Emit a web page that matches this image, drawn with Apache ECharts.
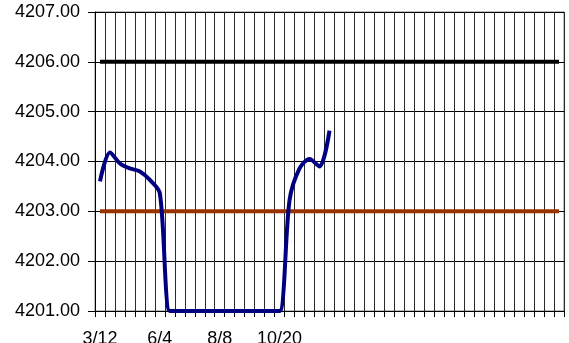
<!DOCTYPE html>
<html>
<head>
<meta charset="utf-8">
<script src="https://cdn.jsdelivr.net/npm/echarts@6/dist/echarts.min.js"></script>
<style>
  html, body { margin: 0; padding: 0; background: #fff; }
  #chart { width: 569px; height: 343px; }
</style>
</head>
<body>
<div id="chart"></div>
<script>
// Number of category slots on the date axis (only the first part holds readings)
const slotCount = 47;
// Date labels, one every labelStep slots
const dateLabels = ['3/12', '6/4', '8/8', '10/20'];
const labelStep = 6;

// Measured level readings
const levelReadings = [
  4203.60, 4204.18, 4203.96, 4203.86, 4203.80, 4203.63, 4203.36,
  4201.00, 4201.00, 4201.00, 4201.00, 4201.00, 4201.00, 4201.00,
  4201.00, 4201.00, 4201.00, 4201.00, 4201.00,
  4203.23, 4203.86, 4204.05, 4203.90, 4204.62
];

// Reference levels drawn across the whole axis
const upperLevel = 4206.00;
const lowerLevel = 4203.00;

// Value axis range
const yMin = 4201, yMax = 4207, yStep = 1;

const categories = Array.from({ length: slotCount }, (_, i) => String(i));
const fill = v => categories.map(() => v);

const chart = echarts.init(document.getElementById('chart'), null, { renderer: 'canvas' });
chart.setOption({
  animation: false,
  backgroundColor: '#ffffff',
  textStyle: { fontFamily: '"Liberation Sans", Arial, sans-serif' },
  grid: {
    left: 95, right: 5, top: 12, bottom: 32,
    containLabel: false,
    outerBoundsMode: 'none',
    show: true, borderColor: '#808080', borderWidth: 1, backgroundColor: 'transparent'
  },
  xAxis: {
    type: 'category',
    data: categories,
    boundaryGap: true,
    axisLine: { show: true, lineStyle: { color: '#000', width: 1 } },
    axisTick: { show: true, interval: 0, length: 6, lineStyle: { color: '#000' } },
    axisLabel: {
      interval: 0,
      margin: 19,
      color: '#000',
      fontSize: 18,
      fontFamily: '"Liberation Sans", Arial, sans-serif',
      formatter: (v, i) => (i % labelStep === 0 && dateLabels[i / labelStep]) ? dateLabels[i / labelStep] : ''
    },
    splitLine: { show: true, interval: 0, lineStyle: { color: '#2a2a2a', width: 1 } }
  },
  yAxis: {
    type: 'value',
    min: yMin, max: yMax, interval: yStep,
    axisLine: { show: true, lineStyle: { color: '#000', width: 1 } },
    axisTick: { show: true, length: 7, lineStyle: { color: '#000' } },
    axisLabel: {
      margin: 15,
      color: '#000',
      fontSize: 18,
      fontFamily: '"Liberation Sans", Arial, sans-serif',
      formatter: v => v.toFixed(2)
    },
    splitLine: { show: true, lineStyle: { color: '#000', width: 1 } }
  },
  series: [
    {
      name: 'upper', type: 'line', data: fill(upperLevel),
      symbol: 'none', lineStyle: { color: '#000000', width: 4 }
    },
    {
      name: 'lower', type: 'line', data: fill(lowerLevel),
      symbol: 'none', lineStyle: { color: '#993300', width: 4 }
    },
    {
      name: 'level', type: 'line', data: levelReadings,
      symbol: 'none', smooth: 0.3,
      lineStyle: { color: '#000080', width: 4 }
    }
  ]
});
</script>
</body>
</html>
